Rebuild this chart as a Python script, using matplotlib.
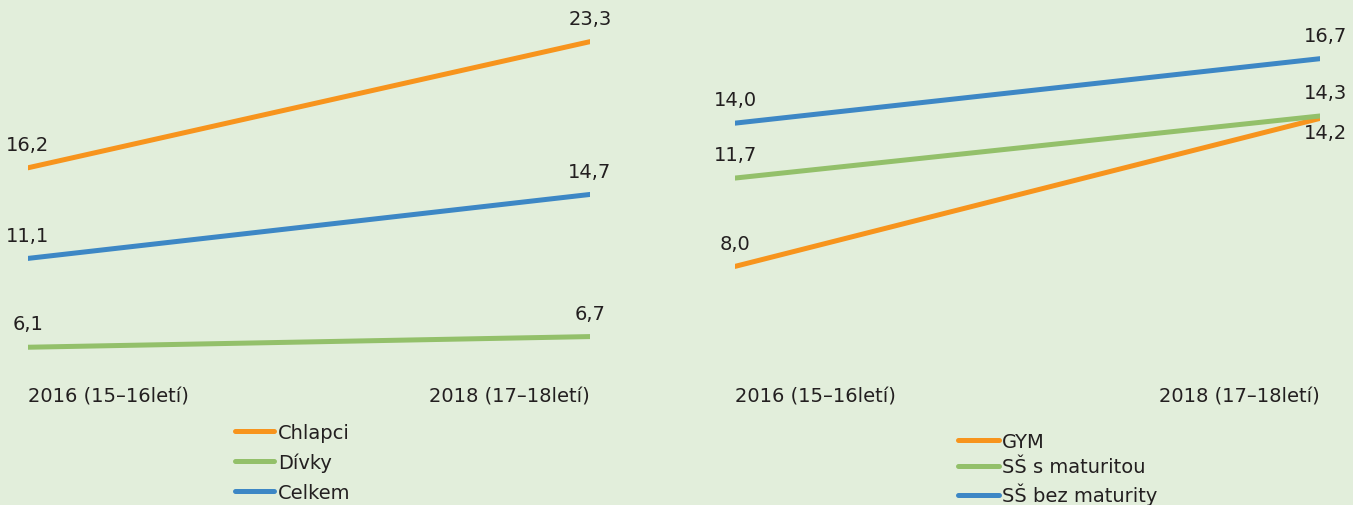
import matplotlib.pyplot as plt

# data
years = ["2016 (15\u201316letí)", "2018 (17\u201318letí)"]

left_names = ["Chlapci", "Dívky", "Celkem"]
chlapci = [16.2, 23.3]
divky = [6.1, 6.7]
celkem = [11.1, 14.7]

right_names = ["GYM", "SŠ s maturitou", "SŠ bez maturity"]
gym = [8.0, 14.2]
ss_mat = [11.7, 14.3]
ss_bez = [14.0, 16.7]

ORANGE = "#f7941d"
GREEN = "#93c06a"
BLUE = "#3d87c5"
BG = "#e2eedb"
TXT = "#231f20"

plt.rcParams['font.family'] = ['DejaVu Sans']
plt.rcParams['font.size'] = 14


def fmt(v):
    return f"{v:.1f}".replace(".", ",")


def draw(ax, series, colors, names, ylim, below=None, end_dx=0):
    x = [0, 1]
    lines = []
    for i, (vals, c, n) in enumerate(zip(series, colors, names)):
        ln, = ax.plot(x, vals, color=c, lw=3.6, solid_capstyle='round', label=n)
        lines.append(ln)
        for j, v in enumerate(vals):
            dx = end_dx if j == 1 else 0
            if below is not None and (i, j) == below:
                ax.annotate(fmt(v), (x[j], v), xytext=(dx, -3), textcoords='offset points',
                            ha='center', va='top', color=TXT, annotation_clip=False)
            else:
                ax.annotate(fmt(v), (x[j], v), xytext=(dx, 10), textcoords='offset points',
                            ha='center', va='bottom', color=TXT, annotation_clip=False)
    ax.set_xlim(0, 1)
    ax.set_ylim(*ylim)
    ax.set_xticks(x)
    ax.set_xticklabels(years, color=TXT)
    labs = ax.get_xticklabels()
    labs[0].set_ha('left')
    labs[1].set_ha('right')
    ax.tick_params(axis='x', length=0, pad=4)
    ax.set_yticks([])
    for s in ax.spines.values():
        s.set_visible(False)
    return lines


fig = plt.figure(figsize=(13.53, 5.06), dpi=100, facecolor=BG)

H = 506.0
W = 1353.0
bottom = (H - 382) / H

ax1 = fig.add_axes([28 / W, bottom, 562 / W, 1 - bottom])
ax1.patch.set_alpha(0)
l1 = draw(ax1, [chlapci, divky, celkem], [ORANGE, GREEN, BLUE], left_names, (4.2, 25.7))

ax2 = fig.add_axes([735 / W, bottom, 585 / W, 1 - bottom])
ax2.patch.set_alpha(0)
l2 = draw(ax2, [gym, ss_mat, ss_bez], [ORANGE, GREEN, BLUE], right_names, (3.2, 19.2),
          below=(0, 1), end_dx=4)

fig.legend(handles=l1, loc='upper left', bbox_to_anchor=(235 / W, (H - 424) / H),
           frameon=False, borderpad=0, borderaxespad=0, handlelength=2.0,
           handletextpad=0.2, labelspacing=0.55, labelcolor=TXT)
fig.legend(handles=l2, loc='upper left', bbox_to_anchor=(958 / W, (H - 433) / H),
           frameon=False, borderpad=0, borderaxespad=0, handlelength=2.1,
           handletextpad=0.15, labelspacing=0.33, labelcolor=TXT)

fig.savefig("out.png", dpi=100, facecolor=BG)
